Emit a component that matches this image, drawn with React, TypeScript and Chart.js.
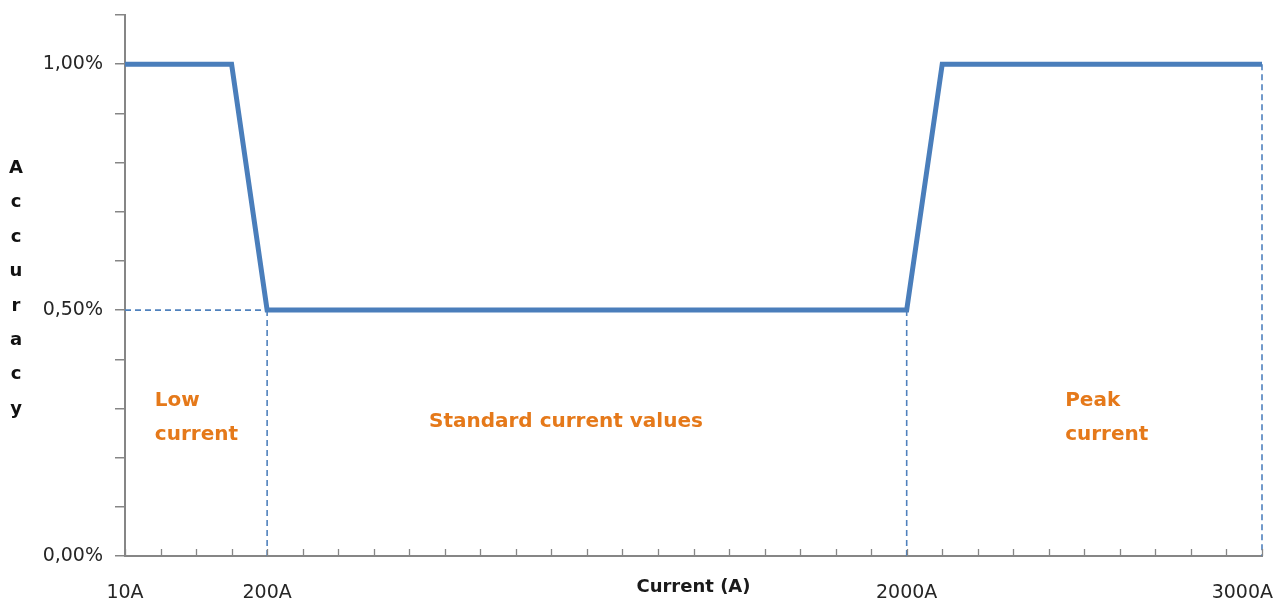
import React, { useEffect, useRef } from 'react';
import { Chart, registerables } from 'chart.js';

Chart.register(...registerables);

// ---- data ----
// category positions along the current axis (one per tick mark)
const currentIndex = [0, 1, 2, 3, 4, 5, 6, 7, 8, 9, 10, 11, 12, 13, 14, 15, 16, 17, 18, 19, 20, 21, 22, 23, 24, 25, 26, 27, 28, 29, 30, 31, 32];
// accuracy (%) at each category
const accuracy = [1.0, 1.0, 1.0, 1.0, 0.5, 0.5, 0.5, 0.5, 0.5, 0.5, 0.5, 0.5, 0.5, 0.5, 0.5, 0.5, 0.5, 0.5, 0.5, 0.5, 0.5, 0.5, 0.5, 1.0, 1.0, 1.0, 1.0, 1.0, 1.0, 1.0, 1.0, 1.0, 1.0];

// labelled current values on the x axis
const xTickPositions = [0, 4, 22, 32];
const xTickLabels = ['10A', '200A', '2000A', '3000A'];

// labelled y ticks
const yTickValues = [0, 0.5, 1.0];
const yTickLabels = ['0,00%', '0,50%', '1,00%'];

// dashed guide lines: [x0, y0, x1, y1]
const guideStartX = [0, 4, 22, 32];
const guideStartY = [0.5, 0.5, 0.5, 1.0];
const guideEndX = [4, 4, 22, 32];
const guideEndY = [0.5, 0, 0, 0];

// region annotations (data coords: x = category, y = accuracy of first baseline)
const regionText = [['Low', 'current'], ['Standard current values'], ['Peak', 'current']];
const regionX = [0.84, 12.41, 26.46];
const regionY = [0.306, 0.262, 0.306];
const regionAlign = ['left', 'center', 'left'];

const yTitle = 'Accuracy';
const xTitle = 'Current (A)';

const AXIS = '#868686';
const BLUE = '#4A7EBB';
const DASH = '#4F81BD';
const ORANGE = '#E5791A';
const FONT = 'DejaVu Sans';

const overlayPlugin = {
  id: 'overlay',
  afterDraw(chart: any) {
    const { ctx, chartArea, scales } = chart;
    const x = scales.x;
    const y = scales.y;
    ctx.save();
    // inward x tick marks
    ctx.strokeStyle = AXIS;
    ctx.lineWidth = 1.3;
    for (const v of currentIndex) {
      const px = Math.round(x.getPixelForValue(v)) + 0.5;
      ctx.beginPath();
      ctx.moveTo(px, chartArea.bottom);
      ctx.lineTo(px, chartArea.bottom - 7);
      ctx.stroke();
    }
    // x tick labels
    ctx.font = `19px "${FONT}"`;
    ctx.fillStyle = '#262626';
    ctx.textBaseline = 'alphabetic';
    ctx.textAlign = 'left';
    xTickPositions.forEach((v, i) => {
      const label = xTickLabels[i];
      const w = ctx.measureText(label).width;
      let left = x.getPixelForValue(v) - w / 2;
      if (left + w > chart.width - 15) left = chart.width - 15 - w;
      ctx.fillText(label, left, chartArea.bottom + 42);
    });
    // y title, stacked letters
    ctx.font = `bold 18px "${FONT}"`;
    ctx.fillStyle = '#111111';
    ctx.textAlign = 'center';
    const letters = yTitle.split('');
    letters.forEach((ch, i) => {
      ctx.fillText(ch, 16, 173 + i * 34.4);
    });
    // region annotations
    ctx.font = `bold 20px "${FONT}"`;
    ctx.fillStyle = ORANGE;
    regionText.forEach((lines, i) => {
      ctx.textAlign = regionAlign[i] as CanvasTextAlign;
      const px = x.getPixelForValue(regionX[i]);
      const py = y.getPixelForValue(regionY[i]);
      lines.forEach((line, j) => ctx.fillText(line, px, py + j * 34));
    });
    ctx.restore();
  },
};

export default function App() {
  const ref = useRef<HTMLCanvasElement>(null);

  useEffect(() => {
    if (!ref.current) return;
    const mainData = currentIndex.map((v, i) => ({ x: v, y: accuracy[i] }));
    const guides = guideStartX.map((x0, i) => ({
      type: 'line' as const,
      data: [
        { x: x0, y: guideStartY[i] },
        { x: guideEndX[i], y: guideEndY[i] },
      ],
      borderColor: DASH,
      borderWidth: 1.6,
      borderDash: [6, 4],
      pointRadius: 0,
      fill: false,
      clip: 6,
      order: 2,
    }));

    const chart = new Chart(ref.current, {
      type: 'line',
      data: {
        datasets: [
          {
            label: 'Accuracy',
            data: mainData,
            borderColor: BLUE,
            borderWidth: 5,
            pointRadius: 0,
            fill: false,
            tension: 0,
            clip: 6,
            order: 0,
          },
          ...guides,
        ],
      },
      options: {
        animation: false,
        responsive: false,
        maintainAspectRatio: false,
        layout: { padding: { top: 15, right: 26, bottom: 0, left: 0 } },
        plugins: {
          legend: { display: false },
          tooltip: { enabled: false },
        },
        scales: {
          x: {
            type: 'linear',
            min: 0,
            max: 32,
            ticks: { display: false, stepSize: 1 },
            grid: { display: false },
            border: { display: true, color: AXIS, width: 2 },
            title: {
              display: true,
              text: xTitle,
              color: '#1a1a1a',
              font: { family: FONT, size: 18, weight: 'bold' },
              padding: { top: 0, bottom: 6 },
            },
            afterFit: (s: any) => {
              s.height = 48;
              s.paddingLeft = 0;
              s.paddingRight = 0;
            },
          },
          y: {
            type: 'linear',
            min: 0,
            max: 1.1,
            ticks: {
              stepSize: 0.1,
              autoSkip: false,
              padding: 12,
              color: '#262626',
              font: { family: FONT, size: 19 },
              callback: (v: any) => {
                const i = yTickValues.findIndex((t) => Math.abs(t - Number(v)) < 1e-9);
                return i >= 0 ? yTickLabels[i] : '';
              },
            },
            grid: {
              drawOnChartArea: false,
              drawTicks: true,
              tickLength: 10,
              color: AXIS,
              lineWidth: 1.5,
            },
            border: { display: true, color: AXIS, width: 2 },
            afterFit: (s: any) => {
              s.width = 125;
              s.paddingTop = 0;
              s.paddingBottom = 0;
            },
          },
        },
      },
      plugins: [overlayPlugin],
    });
    return () => chart.destroy();
  }, []);

  return (
    <div style={{ position: 'fixed', left: 0, top: 0, width: 1288, height: 604, background: '#fff' }}>
      <canvas ref={ref} width={1288} height={604} style={{ display: 'block' }} />
    </div>
  );
}
